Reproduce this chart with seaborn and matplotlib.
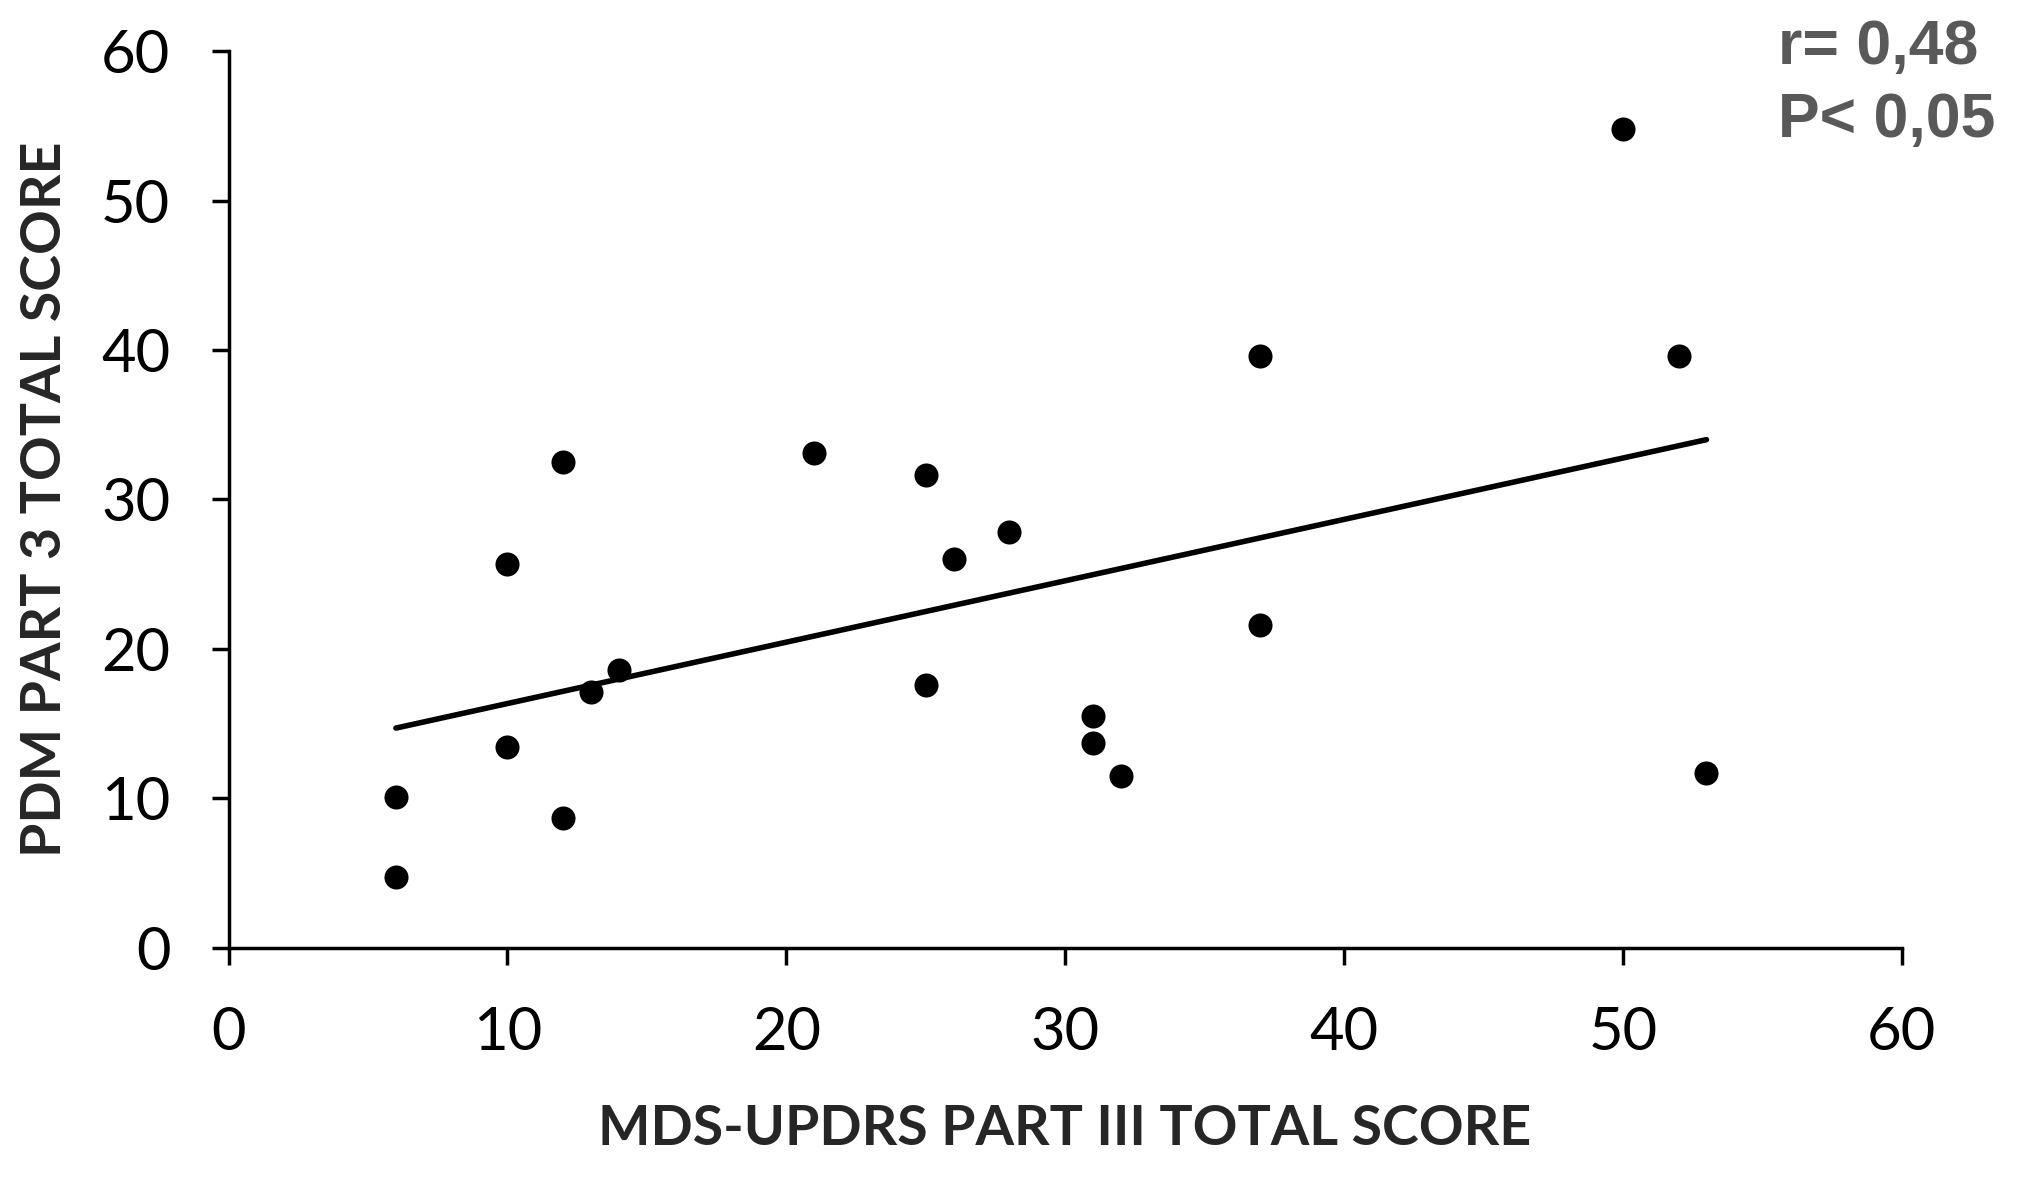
import numpy as np
import pandas as pd
import matplotlib
matplotlib.use("Agg")
import matplotlib.pyplot as plt
import seaborn as sbn

# values
updrs = [6, 6, 10, 10, 12, 12, 13, 14, 21, 25, 25, 26, 28, 31, 31, 32, 37, 37, 50, 52, 53]
pdm = [10.1, 4.7, 25.7, 13.4, 32.5, 8.7, 17.1, 18.6, 33.1, 31.6, 17.6, 26.0, 27.8,
       15.5, 13.7, 11.5, 39.6, 21.6, 54.8, 39.6, 11.7]
ticks = [0, 10, 20, 30, 40, 50, 60]

df = pd.DataFrame({"updrs": updrs, "pdm": pdm})

sbn.set_style("ticks")
plt.rcParams['font.family'] = ['Lato', 'DejaVu Sans']

fig = plt.figure(figsize=(20.23, 11.89), dpi=100)
ax = fig.add_axes([0.113, 0.203, 0.827, 0.754])

sbn.regplot(x="updrs", y="pdm", data=df, ci=None, truncate=True, ax=ax,
            scatter_kws={"s": 300, "color": "black", "linewidths": 0, "alpha": 1},
            line_kws={"color": "black", "lw": 4})

ax.set_xlim(0, 60)
ax.set_ylim(0, 60)
ax.set_xticks(ticks)
ax.set_yticks(ticks)
ax.tick_params(labelsize=43, width=2.5, length=12, direction="out", colors="black")
ax.tick_params(axis="x", pad=30)
ax.tick_params(axis="y", pad=30)
for s in ["left", "bottom"]:
    ax.spines[s].set_linewidth(2.5)
    ax.spines[s].set_color("black")
sbn.despine(ax=ax)

ax.set_xlabel("MDS-UPDRS PART III TOTAL SCORE", fontsize=40, fontweight="bold", labelpad=32)
ax.set_ylabel("PDM PART 3 TOTAL SCORE", fontsize=40, fontweight="bold", labelpad=22)

fig.text(0.879, 0.985, "r= 0,48\nP< 0,05", fontsize=45, fontweight="bold", color="#595959",
         family="Liberation Sans", ha="left", va="top", linespacing=1.3)

fig.savefig("out.png", dpi=100)
plt.close()
